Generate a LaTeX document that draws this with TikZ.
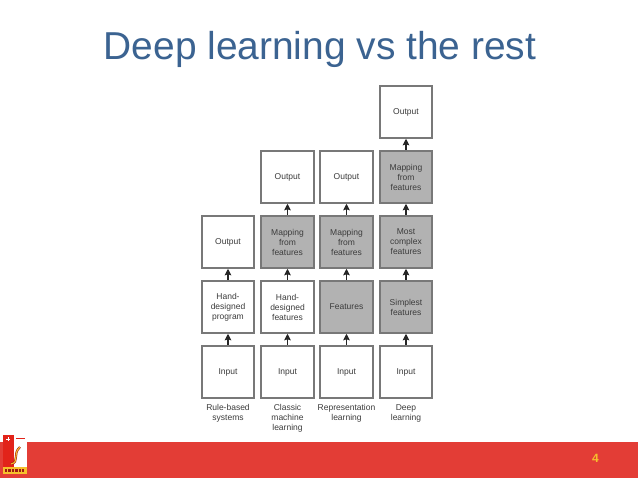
\documentclass[tikz,border=0pt]{standalone}
\usepackage{fontspec}
\setmainfont{Liberation Sans}
\usetikzlibrary{arrows.meta}
\definecolor{titleblue}{HTML}{3B6391}
\definecolor{barred}{HTML}{E33D36}
\definecolor{boxline}{HTML}{787878}
\definecolor{boxgray}{HTML}{B2B2B2}
\definecolor{txt}{HTML}{3C3C3C}
\definecolor{logored}{HTML}{E2231A}
\definecolor{logoyellow}{HTML}{F6C02C}
\tikzset{
  x=1pt,y=-1pt,
  plain/.style={draw=boxline,line width=2pt,fill=white,minimum size=52.5pt,inner sep=0pt,
    align=center,text=txt,font=\fontsize{8.5}{10}\selectfont},
  shaded/.style={plain,fill=boxgray},
  caption/.style={anchor=north,align=center,text=txt,font=\fontsize{8.5}{10}\selectfont,inner sep=0pt},
  flow/.style={draw=black!85,line width=1.3pt,-{Stealth[length=6.5pt,width=6.5pt,inset=1pt]},shorten >=-0.5pt,shorten <=0pt}
}
\begin{document}
\begin{tikzpicture}
\useasboundingbox (0,0) rectangle (638,479);
\fill[white] (0,0) rectangle (638,479);
\fill[barred] (0,442) rectangle (638,478);
% logo
\fill[white] (3,435) rectangle (27,474);
\fill[logored] (3,435) rectangle (14,467);
\fill[logoyellow] (3,467) rectangle (27,474);
\draw[logored!70!black,line width=2.2pt] (11,464) .. controls (20,462) and (12,454) .. (20,447);
\draw[logoyellow,line width=1.1pt] (11,464) .. controls (20,462) and (12,454) .. (20,447);
\draw[logored,line width=1.6pt] (16,438.5) -- (25,438.5);
\draw[white,line width=1pt] (6,439) -- (10,439) (8,437) -- (8,441);
\draw[logored!70!black,line width=2.4pt,densely dotted] (5,470.5) -- (25,470.5);

\node[anchor=base,text=titleblue,font=\fontsize{38.9}{42}\selectfont,inner sep=0pt] (title) at (320,59) {Deep learning vs the rest};
\node[text=logoyellow,font=\bfseries\fontsize{12}{14}\selectfont,inner sep=0pt] (pg) at (595.5,458) {4};

% column 1
\node[plain] (a0) at (228,372) {\strut Input};
\node[plain] (a1) at (228,307) {Hand-\\designed\\program};
\node[plain] (a2) at (228,242) {\strut Output};
% column 2
\node[plain] (b0) at (287.5,372) {\strut Input};
\node[plain] (b1) at (287.5,307) {Hand-\\designed\\features};
\node[shaded] (b2) at (287.5,242) {Mapping\\from\\features};
\node[plain] (b3) at (287.5,177) {\strut Output};
% column 3
\node[plain] (c0) at (346.5,372) {\strut Input};
\node[shaded] (c1) at (346.5,307) {\strut Features};
\node[shaded] (c2) at (346.5,242) {Mapping\\from\\features};
\node[plain] (c3) at (346.5,177) {\strut Output};
% column 4
\node[plain] (d0) at (406,372) {\strut Input};
\node[shaded] (d1) at (406,307) {Simplest\\features};
\node[shaded] (d2) at (406,242) {Most\\complex\\features};
\node[shaded] (d3) at (406,177) {Mapping\\from\\features};
\node[plain] (d4) at (406,112) {\strut Output};

\foreach \p/\q in {a0/a1,a1/a2,b0/b1,b1/b2,b2/b3,c0/c1,c1/c2,c2/c3,d0/d1,d1/d2,d2/d3,d3/d4}
  \draw[flow] (\p) -- (\q);

\node[caption] (la) at (228,403) {\strut Rule-based\\systems};
\node[caption] (lb) at (287.5,403) {\strut Classic\\machine\\learning};
\node[caption] (lc) at (346.5,403) {\strut Representation\\learning};
\node[caption] (ld) at (406,403) {\strut Deep\\learning};
\end{tikzpicture}
\end{document}
